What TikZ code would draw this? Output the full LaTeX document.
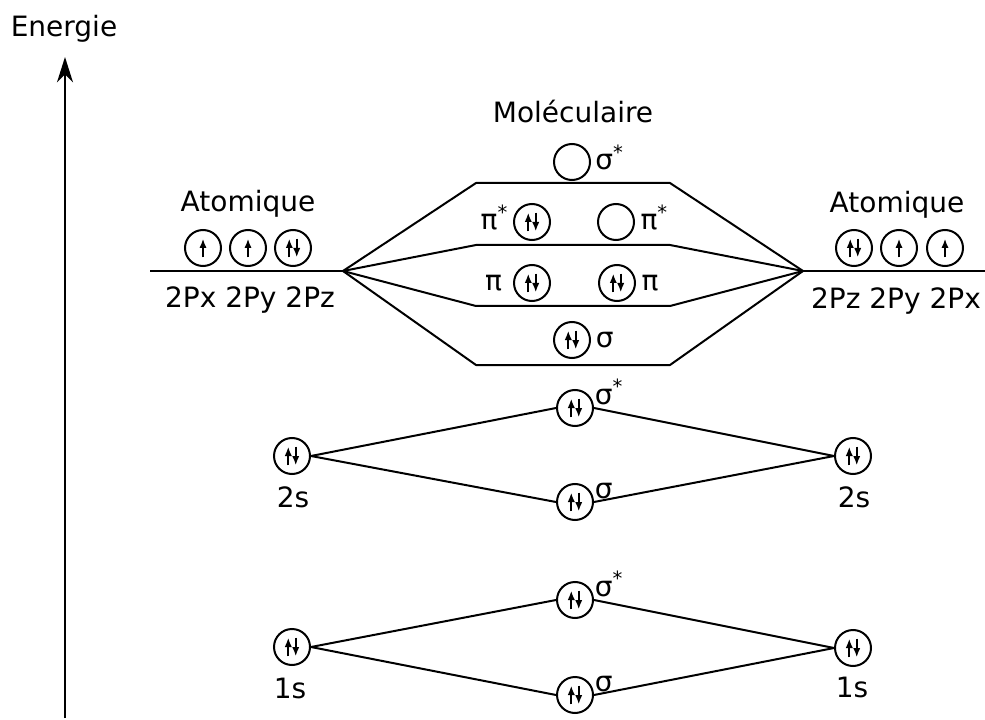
\documentclass[tikz,border=0pt]{standalone}
\usepackage{fontspec}
\setmainfont{DejaVu Sans}
\usetikzlibrary{arrows.meta}

\newcommand{\st}{\textsuperscript{*}}

\tikzset{
    orb/.style={draw, circle, line width=1.5pt, minimum size=27pt, inner sep=0pt},
    spin/.style={line width=1.4pt, -{Latex[length=7pt,width=5.5pt]}},
    up/.style={orb, path picture={
        \draw[spin] ([yshift=-7pt]path picture bounding box.center) -- ++(0pt,14pt);}},
    updown/.style={orb, path picture={
        \draw[spin] ([xshift=-2.8pt,yshift=-7pt]path picture bounding box.center) -- ++(0pt,14pt);
        \draw[spin] ([xshift=2.8pt,yshift=7pt]path picture bounding box.center) -- ++(0pt,-14pt);}},
    lvl/.style={line width=1.5pt, line join=round},
    txt/.style={font=\fontsize{21}{25}\selectfont, inner sep=0pt},
}

\begin{document}
\begin{tikzpicture}[x=0.75pt, y=-0.75pt]
    \useasboundingbox (0,0) rectangle (985,720);

    % energy axis
    \coordinate (e0) at (65,718);
    \coordinate (e1) at (65,57);
    \draw[line width=1.2pt, -{Stealth[length=19pt,width=12pt,inset=6pt]}] (e0) -- (e1);
    \node[txt, anchor=base] (energie) at (64,37) {Energie};

    % 2p, left atom
    \node[txt, anchor=base] (atL) at (248,212) {Atomique};
    \node[up] (pxL) at (203,248) {};
    \node[up] (pyL) at (248,248) {};
    \node[updown] (pzL) at (293,248) {};
    \node[txt, anchor=base] (pL) at (250,307) {2Px 2Py 2Pz};
    \coordinate (l0) at (150,271);
    \coordinate (l1) at (343,271);

    % 2p, right atom
    \node[txt, anchor=base] (atR) at (897,213) {Atomique};
    \node[updown] (pzR) at (854,248) {};
    \node[up] (pyR) at (899,248) {};
    \node[up] (pxR) at (945,248) {};
    \node[txt, anchor=base] (pR) at (896,308) {2Pz 2Py 2Px};
    \coordinate (r0) at (985,271);
    \coordinate (r1) at (803,271);

    % molecular 2p
    \node[txt, anchor=base] (mol) at (573,123) {Moléculaire};
    \node[orb] (ss) at (572,162) {};
    \node[updown] (ppsL) at (532,222) {};
    \node[orb] (ppsR) at (616,222) {};
    \node[updown] (ppL) at (532,283) {};
    \node[updown] (ppR) at (617,283) {};
    \node[updown] (sg) at (572,340) {};

    \node[txt, anchor=base west] (ssT) at ([xshift=3pt,yshift=-5.8pt]ss.east) {σ\st};
    \node[txt, anchor=base east] (ppsLT) at ([xshift=-3.5pt,yshift=-5.8pt]ppsL.west) {π\st};
    \node[txt, anchor=base west] (ppsRT) at ([xshift=4pt,yshift=-5.8pt]ppsR.east) {π\st};
    \node[txt, anchor=base east] (ppLT) at ([xshift=-8pt,yshift=-5.8pt]ppL.west) {π};
    \node[txt, anchor=base west] (ppRT) at ([xshift=4pt,yshift=-5.8pt]ppR.east) {π};
    \node[txt, anchor=base west] (sgT) at ([xshift=3.5pt,yshift=-5.8pt]sg.east) {σ};

    \draw[lvl] (l0) -- (l1);
    \draw[lvl] (r1) -- (r0);
    \foreach \y/\n in {183/a, 245/b, 306/c, 365/d} {
        \coordinate (\n1) at (476,\y);
        \coordinate (\n2) at (670,\y);
        \draw[lvl] (l1) -- (\n1) -- (\n2) -- (r1);
    }

    % 2s
    \node[updown] (s2L) at (292,456) {};
    \node[updown] (s2a) at (575,408) {};
    \node[updown] (s2b) at (575,502) {};
    \node[updown] (s2R) at (853,456) {};
    \node[txt, anchor=base] (s2Lt) at (293,507) {2s};
    \node[txt, anchor=base] (s2Rt) at (854,507) {2s};
    \node[txt, anchor=base west] (s2aT) at ([xshift=0.5pt,yshift=3pt]s2a.east) {σ\st};
    \node[txt, anchor=base west] (s2bT) at ([xshift=0.5pt,yshift=3pt]s2b.east) {σ};
    \draw[lvl] (s2L.east) -- (s2a.west) (s2a.east) -- (s2R.west) -- (s2b.east) (s2b.west) -- (s2L.east);

    % 1s
    \node[updown] (s1L) at (292,647) {};
    \node[updown] (s1a) at (575,600) {};
    \node[updown] (s1b) at (575,695) {};
    \node[updown] (s1R) at (853,648) {};
    \node[txt, anchor=base] (s1Lt) at (290,698) {1s};
    \node[txt, anchor=base] (s1Rt) at (852,697) {1s};
    \node[txt, anchor=base west] (s1aT) at ([xshift=0.5pt,yshift=3pt]s1a.east) {σ\st};
    \node[txt, anchor=base west] (s1bT) at ([xshift=0.5pt,yshift=3pt]s1b.east) {σ};
    \draw[lvl] (s1L.east) -- (s1a.west) (s1a.east) -- (s1R.west) -- (s1b.east) (s1b.west) -- (s1L.east);
\end{tikzpicture}
\end{document}
